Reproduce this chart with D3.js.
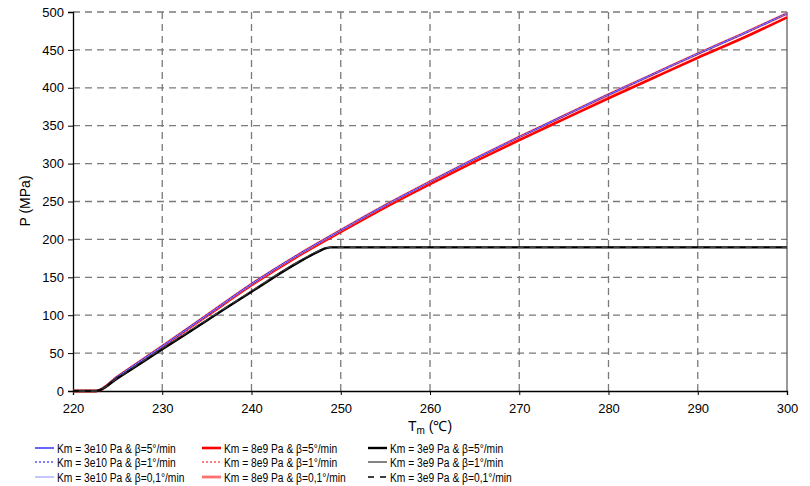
<!DOCTYPE html>
<html><head><meta charset="utf-8">
<script src="https://cdn.jsdelivr.net/npm/d3@7"></script>
<style>body{margin:0;background:#fff;} svg{display:block;} text{font-family:"Liberation Sans",Arial,sans-serif;}</style>
</head><body><svg id="c" width="810" height="486"></svg>
<script>
const xTicks = [220,230,240,250,260,270,280,290,300];
const yTicks = [0,50,100,150,200,250,300,350,400,450,500];
// Upper curve (Km=3e10 and Km=8e9 overlapping)
const tUpper = [220,222.6,225,230,235,240,245,250,255,260,265,270,275,280,285,290,295,300];
const pUpper = [0,0,19,59,100,141,178,212,245,276,306,335,363,391,418,445,471,498];
// Lower red curve
const pLower = [0,0,18.8,58.4,99,139.6,176.4,209.9,242.4,273,302.5,331,358.7,386.2,413,439.6,465.3,493];
// Km=3e9 curves (plateau)
const tBlack = [220,222.6,225,230,235,240,245,247,248,248.8,250,260,270,280,290,300];
const pBlack = [0,0,17,55,93,131,168,181,187,189.5,189.5,189.5,189.5,189.5,189.5,189.5];
const pBlack2 = [0,0,17.5,56,94,132,169,182,187.5,189.5,189.5,189.5,189.5,189.5,189.5,189.5];

const series = [
  {name:"Km = 3e10 Pa & β=5°/min", t:tUpper, p:pUpper, color:"#0000ff", w:1.2, dash:null, col:0,row:0},
  {name:"Km = 3e10 Pa & β=1°/min", t:tUpper, p:pUpper, color:"#0000ff", w:1.2, dash:"2,2", col:0,row:1},
  {name:"Km = 3e10 Pa & β=0,1°/min", t:tUpper, p:pUpper, color:"#8c8cff", w:1, dash:null, col:0,row:2},
  {name:"Km = 8e9 Pa & β=5°/min", t:tUpper, p:pLower, color:"#ff0000", w:2.6, dash:null, col:1,row:0},
  {name:"Km = 8e9 Pa & β=1°/min", t:tUpper, p:pUpper, color:"#ff0000", w:1.2, dash:"2,2", col:1,row:1},
  {name:"Km = 8e9 Pa & β=0,1°/min", t:tUpper, p:pUpper, color:"#ff5050", w:2.8, dash:null, col:1,row:2},
  {name:"Km = 3e9 Pa & β=5°/min", t:tBlack, p:pBlack, color:"#000000", w:2.4, dash:null, col:2,row:0},
  {name:"Km = 3e9 Pa & β=1°/min", t:tBlack, p:pBlack2, color:"#404040", w:1.3, dash:null, col:2,row:1},
  {name:"Km = 3e9 Pa & β=0,1°/min", t:tBlack, p:pBlack, color:"#000000", w:1.3, dash:"6,6", col:2,row:2}
];
const legendColors = ["#0000ff","#0000ff","#8c8cff","#ff0000","#ff0000","#ff7070","#000000","#404040","#000000"];
const drawOrder = [3,5,4,0,1,2,6,7,8];

const svg = d3.select("#c");
const x = d3.scaleLinear().domain([220,300]).range([73,787]);
const y = d3.scaleLinear().domain([0,500]).range([391,12]);

// grid
const g = svg.append("g");
g.selectAll("line.v").data(xTicks.slice(1,-1)).join("line")
  .attr("x1",d=>x(d)).attr("x2",d=>x(d)).attr("y1",y(0)).attr("y2",y(500))
  .attr("stroke","#7a7a7a").attr("stroke-width",1.3).attr("stroke-dasharray","7,5");
g.selectAll("line.h").data(yTicks.slice(1)).join("line")
  .attr("y1",d=>y(d)).attr("y2",d=>y(d)).attr("x1",x(220)).attr("x2",x(300))
  .attr("stroke","#7a7a7a").attr("stroke-width",1.3).attr("stroke-dasharray","7,5");
g.append("line").attr("x1",x(300)).attr("x2",x(300)).attr("y1",y(0)).attr("y2",y(500))
  .attr("stroke","#555").attr("stroke-width",1.2);

// axes
const yAxis = d3.axisLeft(y).tickValues(yTicks).tickSize(5).tickPadding(4);
const ya = svg.append("g").attr("transform",`translate(${x(220)},0)`).call(yAxis);
const xAxis = d3.axisBottom(x).tickValues(xTicks).tickSize(4).tickPadding(9);
const xa = svg.append("g").attr("transform",`translate(0,${y(0)})`).call(xAxis);
[ya,xa].forEach(a=>{
  a.select(".domain").attr("stroke","#000").attr("stroke-width",1.3);
  a.selectAll(".tick line").attr("stroke","#000");
  a.selectAll(".tick text").attr("font-size",13).attr("font-family","Liberation Sans, Arial, sans-serif").attr("fill","#000");
});

// lines
const line = d3.line().x(d=>x(d[0])).y(d=>y(d[1])).curve(d3.curveMonotoneX);
drawOrder.forEach(i=>{
  const s = series[i];
  const pts = s.t.map((t,k)=>[t,s.p[k]]);
  svg.append("path").attr("d",line(pts)).attr("fill","none")
    .attr("stroke",s.color).attr("stroke-width",s.w)
    .attr("stroke-dasharray",s.dash).attr("stroke-linejoin","round");
});

// axis titles
svg.append("text").attr("transform","translate(30,201) rotate(-90)")
  .attr("text-anchor","middle").attr("font-size",14).text("P (MPa)");
const xt = svg.append("text").attr("x",430).attr("y",431).attr("text-anchor","middle").attr("font-size",14);
xt.append("tspan").text("T");
xt.append("tspan").attr("font-size",10).attr("dy",3).text("m");
xt.append("tspan").attr("dy",-3).text(" (℃)");

// legend
const colX = [35,202,368];
const rowY = [448,462,477];
const lg = svg.append("g");
series.forEach((s,i)=>{
  const lx = colX[s.col], ly = rowY[s.row];
  lg.append("line").attr("x1",lx).attr("x2",lx+19).attr("y1",ly).attr("y2",ly)
    .attr("stroke",legendColors[i]).attr("stroke-width",s.w).attr("stroke-dasharray",s.dash);
  const t = lg.append("text").attr("x",lx+22).attr("y",ly+4.5).attr("font-size",12.5).text(s.name);
  const w = t.node().getComputedTextLength();
  t.attr("textLength", w*0.82).attr("lengthAdjust","spacingAndGlyphs");
});
</script></body></html>
